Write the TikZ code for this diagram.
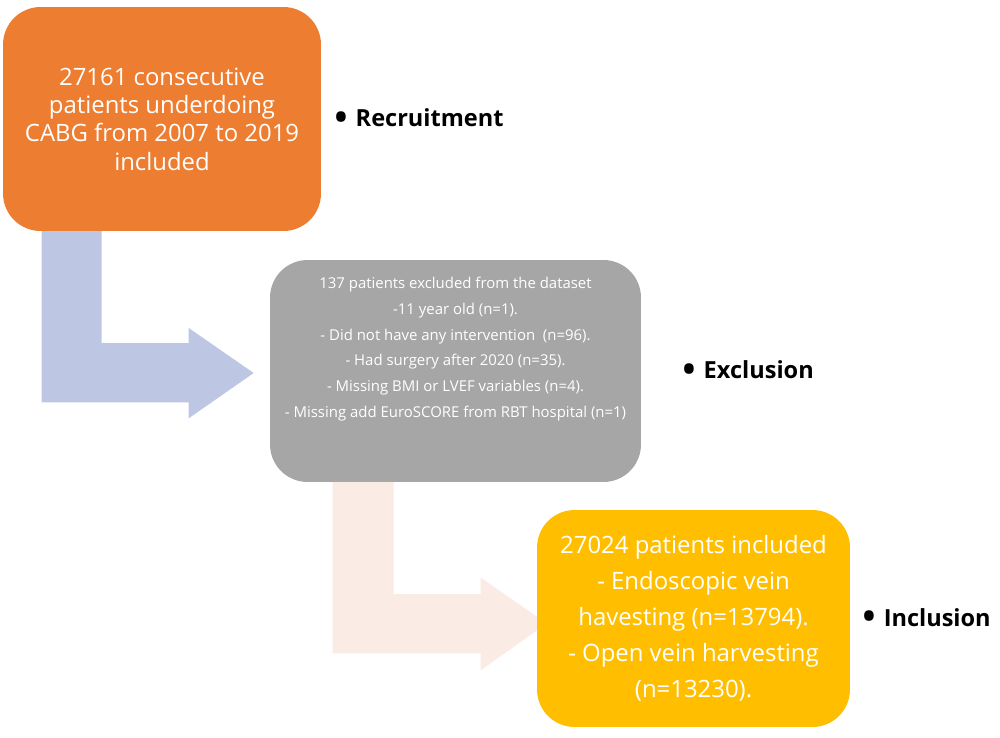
\documentclass[tikz,border=0pt]{standalone}
\usepackage{fontspec}
\setmainfont{Open Sans}
\usepackage{tikz}
\usetikzlibrary{positioning}
\usetikzlibrary{calc}
\usetikzlibrary{backgrounds}
\definecolor{orangebox}{rgb}{0.93,0.49,0.19}
\definecolor{graybox}{rgb}{0.65,0.65,0.65}
\definecolor{yellowbox}{rgb}{1,0.75,0}
\definecolor{bluearrow}{rgb}{0.74,0.78,0.89}
\definecolor{peacharrow}{rgb}{0.98,0.92,0.9}
\newcommand{\bigbullet}{\raisebox{-0.12em}{\scalebox{1.45}{•}}\hspace{0.35em}}

\begin{document}
\begin{tikzpicture}[line cap=round,line join=round, x=0.02cm,y=-0.02cm,
	box/.style={rounded corners=0.75cm, inner sep=0pt, align=center, text=white},
	stage/.style={inner sep=0pt, font=\fontsize{13.4}{16}\selectfont\bfseries}]
	\useasboundingbox (0,0) rectangle (1000,737);
	\node[box, fill=orangebox, minimum width=6.36cm, minimum height=4.48cm, font=\fontsize{13.6}{16.1}\selectfont] (recruit) at (162,119) {27161 consecutive\\patients underdoing\\CABG from 2007 to 2019\\included};
	\node[box, fill=graybox, minimum width=7.42cm, minimum height=4.44cm] (excl) at (455.5,371) {};
	\node[text=white, align=center, inner sep=0pt, font=\fontsize{8.5}{14.7}\selectfont] (exclText) at ($(excl.center)+(0,-22)$) {137 patients excluded from the dataset\\-11 year old (n=1).\\- Did not have any intervention\ \ (n=96).\\- Had surgery after 2020 (n=35).\\- Missing BMI or LVEF variables (n=4).\\- Missing add EuroSCORE from RBT hospital (n=1)};
	\node[box, fill=yellowbox, minimum width=6.26cm, minimum height=4.34cm, font=\fontsize{13.6}{20.5}\selectfont] (incl) at (693.5,618.5) {27024 patients included\\- Endoscopic vein\\havesting (n=13794).\\- Open vein harvesting\\(n=13230).};
	% stage labels
	\node[stage, right=0.26cm of recruit] (recruitLbl) {\bigbullet Recruitment};
	\node[stage, right=0.82cm of excl] (exclLbl) {\bigbullet Exclusion};
	\node[stage, right=0.24cm of incl] (inclLbl) {\bigbullet Inclusion};
	% bent arrows
	\begin{scope}[on background layer]
		\fill[bluearrow] ($(recruit.south west)+(39,-20)$) -- ++(0,191) -- ++(147,0) -- ++(0,16) -- ($(excl.west)+(-16,2)$) -- ++(-65,-45) -- ++(0,15) -- ++(-87,0) -- ++(0,-131) -- cycle;
		\fill[peacharrow] ($(excl.south west)+(63,-20)$) -- ++(0,191) -- ++(148,0) -- ++(0,17) -- ($(incl.west)+(10,5)$) -- ++(-66,-46) -- ++(0,16.5) -- ++(-87,0) -- ++(0,-132) -- cycle;
	\end{scope}
\end{tikzpicture}
\end{document}
